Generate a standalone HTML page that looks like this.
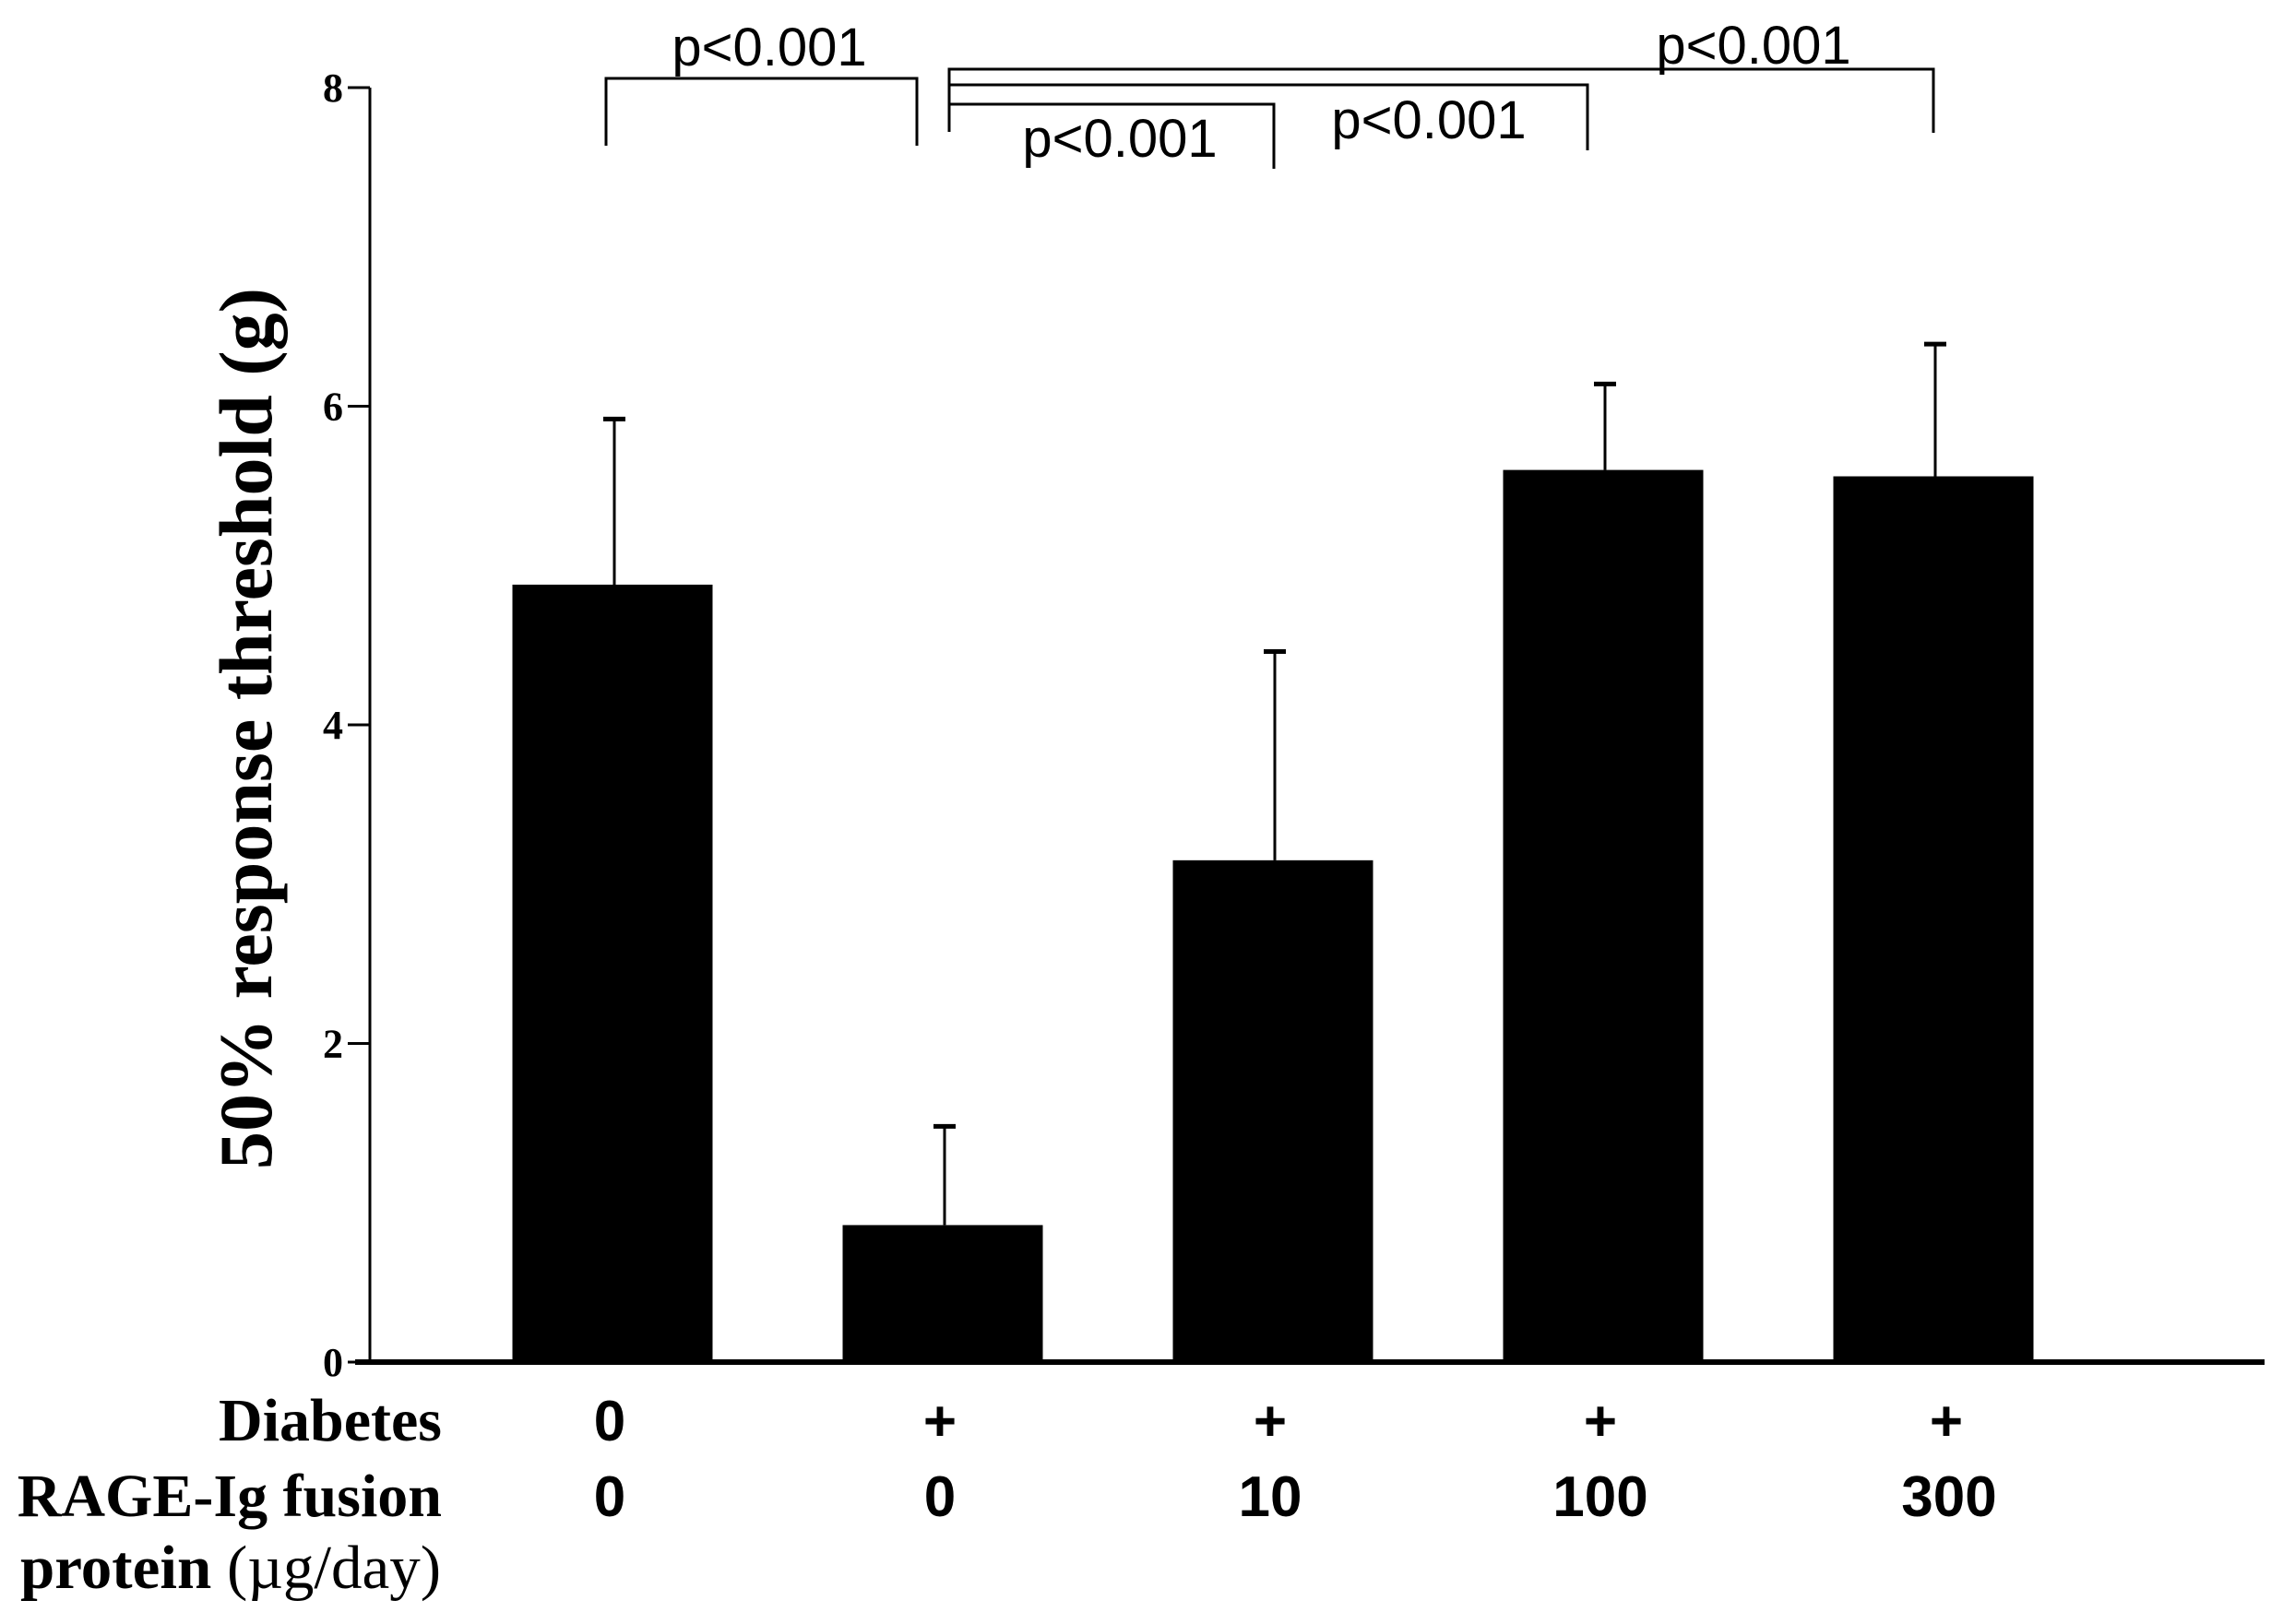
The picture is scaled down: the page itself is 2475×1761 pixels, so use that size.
<!DOCTYPE html>
<html><head><meta charset="utf-8"><style>
html,body{margin:0;padding:0;background:#fff;}
svg{display:block;}
</style></head><body>
<svg id="chart" width="2475" height="1761" viewBox="0 0 2475 1761" xmlns="http://www.w3.org/2000/svg">
<g id="axes"></g><g id="bars"></g><g id="sig"></g><g id="labels"></g>
</svg>
<script>
const categories = ["control", "diabetes", "rage-10", "rage-100", "rage-300"];
const values = [4.88, 0.86, 3.15, 5.60, 5.56];
const errors = [5.92, 1.48, 4.46, 6.14, 6.39];
const yTicks = [0, 2, 4, 6, 8];
const diabetesRow = ["0", "+", "+", "+", "+"];
const doseRow = ["0", "0", "10", "100", "300"];

const NS = "http://www.w3.org/2000/svg";
const x0 = 401, y0 = 1477, yTop = 95, yMax = 8;
const firstCenter = 664, spacing = 358, barW = 217;
function yScale(v){ return y0 - (v / yMax) * (y0 - yTop); }
function xScale(i){ return firstCenter + i * spacing; }
function mk(tag, attrs, parent){
  const e = document.createElementNS(NS, tag);
  for (const k in attrs) e.setAttribute(k, attrs[k]);
  parent.appendChild(e);
  return e;
}
const axes = document.getElementById('axes');
const bars = document.getElementById('bars');
const sig = document.getElementById('sig');
const labels = document.getElementById('labels');

let ya = mk('line', {x1:x0, y1:yTop, x2:x0, y2:y0, stroke:'#000', 'stroke-width':3}, axes);


yTicks.forEach(t => {
  const y = yScale(t);
  let tk = mk('line', {x1:x0-24, y1:y, x2:x0, y2:y, stroke:'#000', 'stroke-width':3}, axes);
  
  
  let tl = mk('text', {x:x0-40, y:y+15, 'text-anchor':'middle', 'font-family':'Liberation Serif, serif', 'font-weight':'bold', 'font-size':44}, axes);
  tl.textContent = t;
  
  
});
let yt = mk('text', {x:0, y:0, transform:'translate(294,790) rotate(-90)', 'text-anchor':'middle', 'font-family':'Liberation Serif, serif', 'font-weight':'bold', 'font-size':82}, axes);
yt.textContent = '50% response threshold (g)';



values.forEach((v, i) => {
  const cx = xScale(i);
  let r = mk('rect', {x:cx-barW/2, y:yScale(v), width:barW, height:y0-yScale(v), fill:'#000'}, bars);
  
  
  let el = mk('line', {x1:cx+2, y1:yScale(v), x2:cx+2, y2:yScale(errors[i]), stroke:'#000', 'stroke-width':3}, bars);
  
  
  let cap = mk('line', {x1:cx-10, y1:yScale(errors[i]), x2:cx+14, y2:yScale(errors[i]), stroke:'#000', 'stroke-width':5}, bars);
  
  
});
let xa = mk('line', {x1:385, y1:y0, x2:2455, y2:y0, stroke:'#000', 'stroke-width':6}, axes);



function path(d, name){
  let p = mk('path', {d:d, fill:'none', stroke:'#000', 'stroke-width':3}, sig);
  
  
}
function ptext(x, y, name){
  let t = mk('text', {x:x, y:y, 'text-anchor':'middle', 'font-family':'Liberation Sans, Arial, sans-serif', 'font-size':58}, sig);
  t.textContent = 'p<0.001';
  
  
}
path('M657 158 V85 H994 V158', 'bracket-control-vs-diabetes');
ptext(834, 71, 'p-value-control-vs-diabetes');
path('M1029 143 V75 H2096 V144', 'bracket-diabetes-vs-300');
path('M1029 92 H1721 V163', 'bracket-diabetes-vs-100');
path('M1029 113 H1381 V183', 'bracket-diabetes-vs-10');
ptext(1214, 170, 'p-value-diabetes-vs-10');
ptext(1549, 150, 'p-value-diabetes-vs-100');
ptext(1901, 69, 'p-value-diabetes-vs-300');

function lab(txt, x, y, anchor, fam, weight, size, name){
  let t = mk('text', {x:x, y:y, 'text-anchor':anchor, 'font-family':fam, 'font-weight':weight, 'font-size':size}, labels);
  t.textContent = txt;
  
  
  return t;
}
const serif = 'Liberation Serif, serif', sans = 'Liberation Sans, Arial, sans-serif';
lab('Diabetes', 479, 1562, 'end', serif, 'bold', 66, 'diabetes-row-label');
lab('RAGE-Ig fusion', 479, 1644, 'end', serif, 'bold', 66, 'rage-row-label');
let pl = lab('protein ', 22, 1722, 'start', serif, 'bold', 67, 'rage-unit-label');
let ts = document.createElementNS(NS, 'tspan');
ts.setAttribute('font-weight', 'normal');
ts.textContent = '(\u00b5g/day)';
pl.appendChild(ts);
diabetesRow.forEach((s, i) => lab(s, xScale(i) + (i===4 ? 14 : -3), 1562, 'middle', sans, 'bold', 62, 'diabetes-value'));
doseRow.forEach((s, i) => lab(s, xScale(i) + (i===4 ? 17 : -3), 1644, 'middle', sans, 'bold', 62, 'dose-value'));
</script>
</body></html>
